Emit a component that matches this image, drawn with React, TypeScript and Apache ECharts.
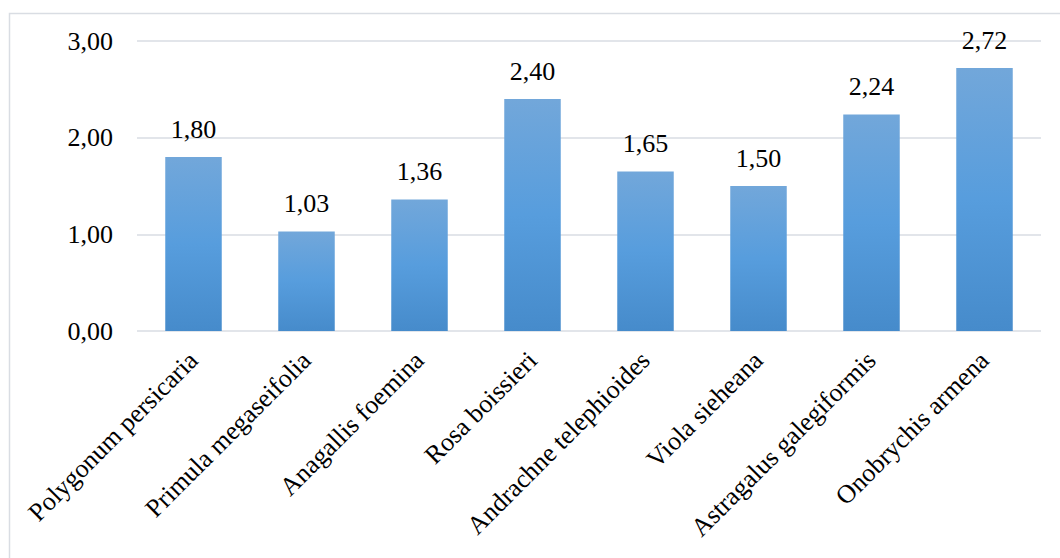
import React, { useEffect, useRef } from "react";
import * as echarts from "echarts";

const categories = [
  "Polygonum persicaria",
  "Primula megaseifolia",
  "Anagallis foemina",
  "Rosa boissieri",
  "Andrachne telephioides",
  "Viola sieheana",
  "Astragalus galegiformis",
  "Onobrychis armena",
];

const values = [1.8, 1.03, 1.36, 2.4, 1.65, 1.5, 2.24, 2.72];

const yTicks = { min: 0, max: 3, interval: 1 };

const FONT = "'Liberation Serif', 'Times New Roman', serif";

const fmt = (v: number) => v.toFixed(2).replace(".", ",");

export default function App() {
  const ref = useRef<HTMLDivElement>(null);

  useEffect(() => {
    if (!ref.current) return;
    const chart = echarts.init(ref.current, undefined, { renderer: "svg" });
    chart.setOption({
      animation: false,
      backgroundColor: "#ffffff",
      graphic: [
        {
          type: "rect",
          left: 7,
          top: 11,
          shape: { width: 1070, height: 570 },
          style: { fill: "none", stroke: "#d9dde3", lineWidth: 1.5 },
          silent: true,
        },
      ],
      grid: { left: 137, right: 19, top: 41, bottom: 227, containLabel: false },
      xAxis: {
        type: "category",
        data: categories,
        axisLine: { show: false },
        axisTick: { show: false },
        axisLabel: {
          rotate: 45,
          interval: 0,
          margin: 25,
          fontFamily: FONT,
          fontSize: 26,
          color: "#000000",
        },
      },
      yAxis: {
        type: "value",
        min: yTicks.min,
        max: yTicks.max,
        interval: yTicks.interval,
        axisLine: { show: false },
        axisTick: { show: false },
        splitLine: { lineStyle: { color: "#d9dde3", width: 1.5 } },
        axisLabel: {
          margin: 24,
          fontFamily: FONT,
          fontSize: 26,
          color: "#000000",
          formatter: (v: number) => fmt(v),
        },
      },
      series: [
        {
          type: "bar",
          data: values,
          barWidth: "50%",
          itemStyle: {
            color: new echarts.graphic.LinearGradient(0, 0, 0, 1, [
              { offset: 0, color: "#72a7da" },
              { offset: 0.5, color: "#579ddd" },
              { offset: 1, color: "#468bcb" },
            ]),
          },
          label: {
            show: true,
            position: "top",
            distance: 15,
            fontFamily: FONT,
            fontSize: 26,
            color: "#000000",
            formatter: (p: any) => fmt(p.value),
          },
        },
      ],
    });
    return () => chart.dispose();
  }, []);

  return (
    <div
      ref={ref}
      style={{ position: "fixed", left: 0, top: 0, width: 1060, height: 558 }}
    />
  );
}
